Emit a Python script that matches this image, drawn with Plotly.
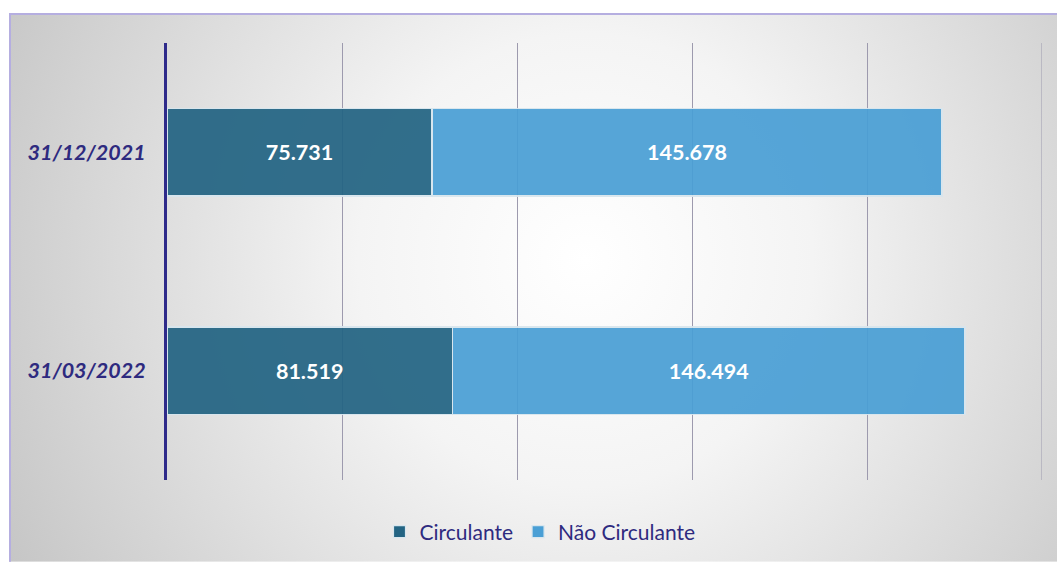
import base64
import plotly.graph_objects as go

datas = ["31/12/2021", "31/03/2022"]
circulante = [75731, 81519]
nao_circulante = [145678, 146494]
series_names = ["Circulante", "Não Circulante"]


def fmt(v):
    return f"{v:,}".replace(",", ".")


# fundo com gradiente radial (branco no centro, cinza nas bordas)
svg = """<svg xmlns='http://www.w3.org/2000/svg' width='1048' height='550' viewBox='0 0 1048 550'>
<defs><radialGradient id='g' cx='0.55' cy='0.45' r='0.62' gradientUnits='objectBoundingBox'
 gradientTransform='translate(0.55 0.45) scale(1 1.9) translate(-0.55 -0.45)'>
<stop offset='0' stop-color='#ffffff'/><stop offset='0.35' stop-color='#f4f4f4'/>
<stop offset='1' stop-color='#c6c6c6'/></radialGradient></defs>
<rect width='1048' height='550' fill='url(#g)'/></svg>"""
bg_src = "data:image/svg+xml;base64," + base64.b64encode(svg.encode()).decode()

label_font = dict(family="Lato", size=21.5, color="white", weight="bold")

fig = go.Figure()
fig.add_trace(go.Bar(
    y=datas, x=circulante, name=series_names[0], orientation="h",
    marker=dict(color="#236483", opacity=0.93, line=dict(color="#d8e6ee", width=1.2)),
    text=[fmt(v) for v in circulante], textposition="inside", insidetextanchor="middle",
    textfont=label_font, width=0.4,
))
fig.add_trace(go.Bar(
    y=datas, x=nao_circulante, name=series_names[1], orientation="h",
    marker=dict(color="#4a9fd5", opacity=0.93, line=dict(color="#d8e6ee", width=1.2)),
    text=[fmt(v) for v in nao_circulante], textposition="inside", insidetextanchor="middle",
    textfont=label_font, width=0.4,
))

W, H = 1057, 563
L, T = 167, 43
R = W - 1042
B = H - 481
pw, ph = W - L - R, H - T - B


def px(x):
    return (x - L) / pw


def py(y):
    return (H - B - y) / ph


border = dict(color="#b5aee0", width=2)
fig.update_layout(
    width=W, height=H,
    margin=dict(l=L, r=R, t=T, b=B),
    barmode="stack",
    paper_bgcolor="white",
    plot_bgcolor="rgba(0,0,0,0)",
    showlegend=True,
    legend=dict(orientation="h", x=px(540), xanchor="center", y=py(532), yanchor="middle",
                font=dict(family="Lato", size=21, color="#2e2a7f"),
                bgcolor="rgba(0,0,0,0)", itemwidth=30, traceorder="normal"),
    uniformtext=dict(mode="show", minsize=10),
    images=[dict(source=bg_src, xref="paper", yref="paper",
                 x=px(9), y=py(13), sizex=px(1057) - px(9), sizey=py(13) - py(563),
                 xanchor="left", yanchor="top", sizing="stretch", layer="below")],
    shapes=[
        dict(type="line", xref="paper", yref="paper",
             x0=px(9), x1=px(1057), y0=py(14), y1=py(14), line=border, layer="below"),
        dict(type="line", xref="paper", yref="paper",
             x0=px(10), x1=px(10), y0=py(13), y1=py(563), line=border, layer="below"),
        dict(type="line", xref="x", yref="paper", x0=250000, x1=250000, y0=0, y1=1,
             line=dict(color="#9d9aae", width=1), layer="below"),
    ],
    font=dict(family="Lato"),
)
fig.update_xaxes(range=[0, 250000], dtick=50000, showticklabels=False,
                 showgrid=True, gridcolor="#9d9aae", gridwidth=1,
                 zeroline=False, showline=False)
fig.update_yaxes(categoryorder="array", categoryarray=datas, autorange="reversed",
                 showline=True, linecolor="#2e2a8a", linewidth=3,
                 showgrid=False, ticks="", ticklabelstandoff=14,
                 tickfont=dict(family="Lato", size=21.5, color="#2e2a7f",
                               weight="bold", style="italic"))

# sem margem no body, para a figura ocupar a janela inteira
fig.write_html("out.html", config={"displayModeBar": False},
               post_script="document.body.style.margin='0';document.body.style.overflow='hidden';")
